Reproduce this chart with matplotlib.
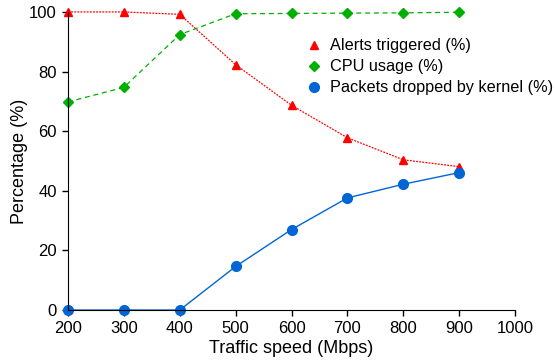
import numpy as np
import matplotlib
matplotlib.use("Agg")
import matplotlib.pyplot as plt
from matplotlib.lines import Line2D

plt.rcParams['font.family'] = ['Liberation Sans', 'DejaVu Sans']

speed = [200, 300, 400, 500, 600, 700, 800, 900]
alerts = [100, 100, 99.2, 82.3, 68.7, 57.8, 50.4, 48.1]
cpu = [69.8, 74.7, 92.4, 99.4, 99.5, 99.6, 99.7, 99.9]
dropped = [0, 0, 0, 14.6, 27.0, 37.6, 42.2, 46.1]
xticks = [200, 300, 400, 500, 600, 700, 800, 900, 1000]
yticks = [0, 20, 40, 60, 80, 100]
labels = ['Alerts triggered (%)', 'CPU usage (%)', 'Packets dropped by kernel (%)']

red, green, blue = '#ff0000', '#00b000', '#0066d6'

fig = plt.figure(figsize=(5.55, 3.62), dpi=100)
ax = fig.add_axes([0.1225, 0.1436, 0.8055, 0.8234])

ax.plot(speed, alerts, color=red, linestyle=(0, (1.5, 1)), linewidth=0.9,
        marker='^', markersize=6, clip_on=False)
ax.plot(speed, cpu, color=green, linestyle=(0, (4, 3)), linewidth=0.9,
        marker='D', markersize=5.5, clip_on=False)
ax.plot(speed, dropped, color=blue, linestyle='-', linewidth=1.0,
        marker='o', markersize=7, clip_on=False)

ax.set_xlim(200, 1000)
ax.set_ylim(0, 100)
ax.set_xticks(xticks)
ax.set_yticks(yticks)
ax.tick_params(labelsize=12, length=4, width=1, pad=4)
ax.spines['top'].set_visible(False)
ax.spines['right'].set_visible(False)
ax.set_xlabel('Traffic speed (Mbps)', fontsize=13, labelpad=3)
ax.set_ylabel('Percentage (%)', fontsize=13, labelpad=1)

# legend shows markers only
handles = [Line2D([], [], color=red, marker='^', linestyle='none', markersize=6),
           Line2D([], [], color=green, marker='D', linestyle='none', markersize=5),
           Line2D([], [], color=blue, marker='o', linestyle='none', markersize=7)]
ax.legend(handles, labels, loc='upper right', bbox_to_anchor=(1.118, 0.96), frameon=False,
          fontsize=11.7, handlelength=1.0, handletextpad=0.5, labelspacing=0.36)

fig.savefig('out.png', dpi=100)
